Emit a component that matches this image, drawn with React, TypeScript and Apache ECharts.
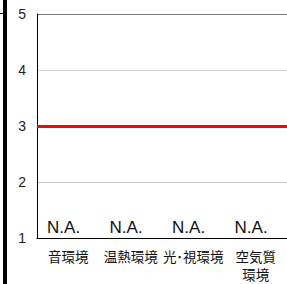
import React, { useEffect, useRef } from "react";
import * as echarts from "echarts";

const categories = ["音環境", "温熱環境", "光･視環境", "空気質環境"];
const categoryLabels = ["音環境", "温熱環境", "光･視環境", "空気質\n環境"];
const barValues = [1, 1, 1, 1];
const barLabels = ["N.A.", "N.A.", "N.A.", "N.A."];
const targetValue = 3;
const yMin = 1;
const yMax = 5;
const yInterval = 1;

const FONT = "'Liberation Sans', Arial, 'Noto Sans CJK JP', sans-serif";

export default function App() {
  const ref = useRef<HTMLDivElement>(null);
  useEffect(() => {
    if (!ref.current) return;
    const chart = echarts.init(ref.current, null, { renderer: "svg" });
    chart.setOption({
      animation: false,
      backgroundColor: "#ffffff",
      grid: { left: 37, right: -4, top: 14, bottom: 43, containLabel: false },
      xAxis: {
        type: "category",
        data: categories,
        axisLine: { show: true, lineStyle: { color: "#000000", width: 1 } },
        axisTick: { show: false },
        axisLabel: {
          interval: 0,
          margin: 10,
          fontSize: 13.5,
          lineHeight: 18,
          color: "#111111",
          fontFamily: FONT,
          formatter: (v: string) => categoryLabels[categories.indexOf(v)] ?? v,
        },
        splitLine: { show: false },
      },
      yAxis: {
        type: "value",
        min: yMin,
        max: yMax,
        interval: yInterval,
        axisLine: { show: true, lineStyle: { color: "#000000", width: 1 } },
        axisTick: { show: false },
        axisLabel: { margin: 11, fontSize: 14, color: "#222222", fontFamily: FONT },
        splitLine: {
          show: true,
          lineStyle: {
            color: ["#d9d9d9", "#c8c8c8", "#d9d9d9", "#d4d4d4", "#7a7a7a"],
            width: 1,
          },
        },
      },
      series: [
        {
          type: "bar",
          data: barValues,
          barWidth: "71%",
          barMinHeight: 2,
          itemStyle: { color: "#595959" },
          z: 1,
          label: {
            show: true,
            position: [1, -2],
            align: "left",
            verticalAlign: "bottom",
            fontSize: 17,
            color: "#111111",
            fontFamily: FONT,
            formatter: (p: any) => barLabels[p.dataIndex],
          },
          markLine: {
            silent: true,
            symbol: "none",
            label: { show: false },
            lineStyle: { color: "#ff0000", width: 3, type: "solid" },
            data: [{ yAxis: targetValue }],
          },
        },
      ],
      graphic: [
        { type: "rect", shape: { x: 3, y: 0, width: 4, height: 284 }, style: { fill: "#000000" } },
        { type: "rect", shape: { x: 0, y: 13, width: 3, height: 1 }, style: { fill: "#000000" } },
      ],
    });
    return () => chart.dispose();
  }, []);
  return (
    <div
      ref={ref}
      style={{ position: "fixed", left: 0, top: 0, width: 287, height: 284 }}
    />
  );
}
